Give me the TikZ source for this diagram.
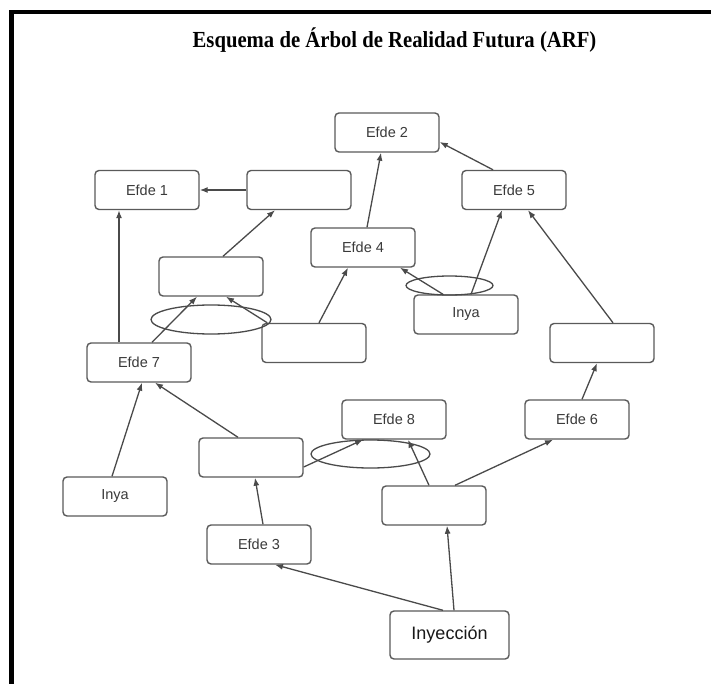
\documentclass[tikz,border=0pt]{standalone}
\usepackage{fontspec}
\setmainfont{Liberation Serif}
\newfontfamily\boxfont{Liberation Sans}
\usetikzlibrary{arrows.meta}
\definecolor{edge}{HTML}{4A4A4A}
\definecolor{boxline}{HTML}{5A5A5A}
\definecolor{boxtext}{HTML}{3A3A3A}
\tikzset{
  efbox/.style={draw=boxline, line width=1.4pt, rounded corners=4pt, fill=white,
    minimum width=104pt, minimum height=39pt, inner sep=0pt,
    font=\boxfont\fontsize{14.5}{16}\selectfont, text=boxtext},
  injbox/.style={efbox, minimum width=119pt, minimum height=48pt,
    font=\boxfont\fontsize{18}{20}\selectfont, text=black!90},
  arr/.style={draw=edge, line width=1.3pt,
    -{Latex[length=8pt,width=6pt]}},
  loop/.style={draw=edge, line width=1.3pt}
}
\begin{document}
\begin{tikzpicture}[x=1pt,y=-1pt]
\useasboundingbox (0,0) rectangle (711,684);
\fill[white] (0,0) rectangle (711,684);

% frame (left and top edges)
\draw[line width=4.5pt] (11.5,690) -- (11.5,12) -- (720,12);

% title
\node (title) at (394.5,40) {\scalebox{0.9}[1]{\fontsize{23}{26}\selectfont\bfseries Esquema de Árbol de Realidad Futura (ARF)}};

% boxes
\node[efbox] (e1) at (147,190)   {Efde 1};
\node[efbox] (t1) at (299,190)   {};
\node[efbox] (e2) at (387,132.5) {Efde 2};
\node[efbox] (e5) at (514,190)   {Efde 5};
\node[efbox] (e4) at (363,247.5) {Efde 4};
\node[efbox] (b2) at (211,276.5) {};
\node[efbox] (iyr) at (466,314.5) {Inya};
\node[efbox] (b3) at (314,343)   {};
\node[efbox] (br) at (602,343)   {};
\node[efbox] (e7) at (139,362.5) {Efde 7};
\node[efbox] (e8) at (394,419.5) {Efde 8};
\node[efbox] (e6) at (577,419.5) {Efde 6};
\node[efbox] (b4) at (251,457.5) {};
\node[efbox] (iyl) at (115,496.5) {Inya};
\node[efbox] (b5) at (434,505.5) {};
\node[efbox] (e3) at (259,544.5) {Efde 3};
\node[injbox] (inj) at (449.5,635) {Inyección};

% groupings of joint causes
\draw[loop] (211,319.5) ellipse (60 and 14.5);
\draw[loop] (449.5,285.5) ellipse (43.5 and 9.5);
\draw[loop] (370.5,454) ellipse (59.5 and 14);

% connectors
\draw[arr] (t1.west) -- (e1.east);
\draw[arr] ([xshift=-20pt]e7.north) -- ([xshift=-28pt]e1.south);
\draw[arr] ([xshift=12pt]b2.north) -- ([xshift=-24pt]t1.south);
\draw[arr] ([xshift=13pt]e7.north) -- ([xshift=-14pt]b2.south);
\draw[arr] ([xshift=6pt]b3.north west) -- ([xshift=15pt]b2.south);
\draw[arr] ([xshift=5pt]b3.north) -- ([xshift=-15pt]e4.south);
\draw[arr] ([xshift=4pt]e4.north) -- ([xshift=-6pt]e2.south);
\draw[arr] ([xshift=-21pt]e5.north) -- ([yshift=-9.5pt]e2.east);
\draw[arr] ([xshift=-23pt]iyr.north) -- ([xshift=37pt]e4.south);
\draw[arr] ([xshift=5pt]iyr.north) -- ([xshift=-12pt]e5.south);
\draw[arr] ([xshift=11pt]br.north) -- ([xshift=14pt]e5.south);
\draw[arr] ([xshift=5pt]e6.north) -- ([xshift=-5pt]br.south);
\draw[arr] ([xshift=-3pt]iyl.north) -- ([xshift=3pt]e7.south);
\draw[arr] ([xshift=-13pt]b4.north) -- ([xshift=16pt]e7.south);
\draw[arr] ([xshift=4pt]e3.north) -- ([xshift=4pt]b4.south);
\draw[arr] ([yshift=-9.5pt]b4.east) -- ([xshift=-31pt]e8.south);
\draw[arr] ([xshift=-5pt]b5.north) -- ([xshift=14pt]e8.south);
\draw[arr] ([xshift=21pt]b5.north) -- ([xshift=-24pt]e6.south);
\draw[arr] ([xshift=4.5pt]inj.north) -- ([xshift=13pt]b5.south);
\draw[arr] ([xshift=-6.5pt]inj.north) -- ([xshift=16pt]e3.south);
\end{tikzpicture}
\end{document}
